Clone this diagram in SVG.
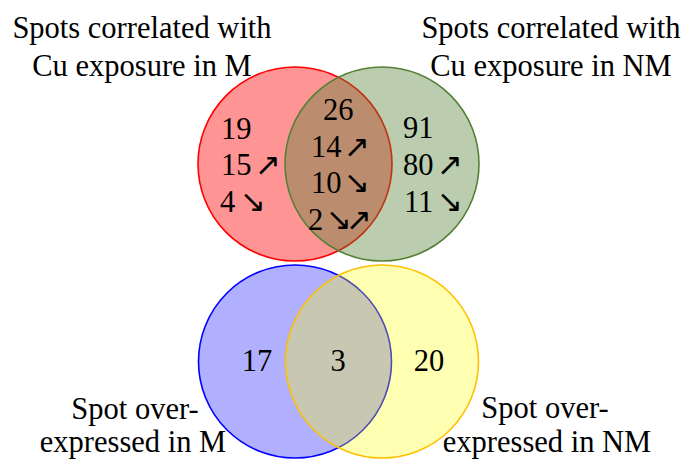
<svg xmlns="http://www.w3.org/2000/svg" width="686" height="459" viewBox="0 0 686 459">
<style>
  text { font-family: 'Liberation Serif', 'Times New Roman', serif; font-size: 30.5px; fill: #000; }
  .mid { text-anchor: middle; }
  .arw { font-family: 'DejaVu Sans', sans-serif; font-size: 31px; }
  .c { stroke-width: 1.6; }
</style>
<rect width="686" height="459" fill="#fff"/>
<g id="set-cu-m">
  <circle class="c" cx="295" cy="164" r="97" fill="#ff0000" fill-opacity="0.42" stroke="#ff0000"/>
</g>
<g id="set-cu-nm">
  <circle class="c" cx="382" cy="164" r="97" fill="#548235" fill-opacity="0.4" stroke="#548235"/>
</g>
<g id="set-over-m">
  <circle class="c" cx="295" cy="361.5" r="96.5" fill="#0000ff" fill-opacity="0.31" stroke="#0000ff"/>
</g>
<g id="set-over-nm">
  <circle class="c" cx="382" cy="361.5" r="96.5" fill="#ffff00" fill-opacity="0.3" stroke="#ffc000"/>
</g>
<g id="connectors"></g>
<g id="labels">
  <text class="mid" x="142" y="38">Spots correlated with</text>
  <text class="mid" x="142" y="76">Cu exposure in M</text>
  <text class="mid" x="551" y="38">Spots correlated with</text>
  <text class="mid" x="551" y="76">Cu exposure in NM</text>
  <text class="mid" x="135" y="419">Spot over-</text>
  <text class="mid" x="133" y="452">expressed in M</text>
  <text class="mid" x="545" y="418">Spot over-</text>
  <text class="mid" x="547" y="452">expressed in NM</text>
</g>
<g id="counts-top">
  <text x="221" y="139">19</text>
  <text x="221" y="175">15</text>
  <text class="arw" x="255" y="175">↗</text>
  <text x="220" y="212">4</text>
  <text class="arw" x="240" y="212">↘</text>
  <text x="323" y="120">26</text>
  <text x="311" y="157">14</text>
  <text class="arw" x="344" y="157">↗</text>
  <text x="311" y="193">10</text>
  <text class="arw" x="344" y="193">↘</text>
  <text x="308" y="230">2</text>
  <text class="arw" x="326" y="230" letter-spacing="-6">↘↗</text>
  <text x="403" y="138">91</text>
  <text x="403" y="175">80</text>
  <text class="arw" x="437" y="175">↗</text>
  <text x="404" y="212">11</text>
  <text class="arw" x="437" y="212">↘</text>
</g>
<g id="counts-bottom">
  <text class="mid" x="257" y="371">17</text>
  <text class="mid" x="338" y="371">3</text>
  <text class="mid" x="429" y="371">20</text>
</g>
</svg>
